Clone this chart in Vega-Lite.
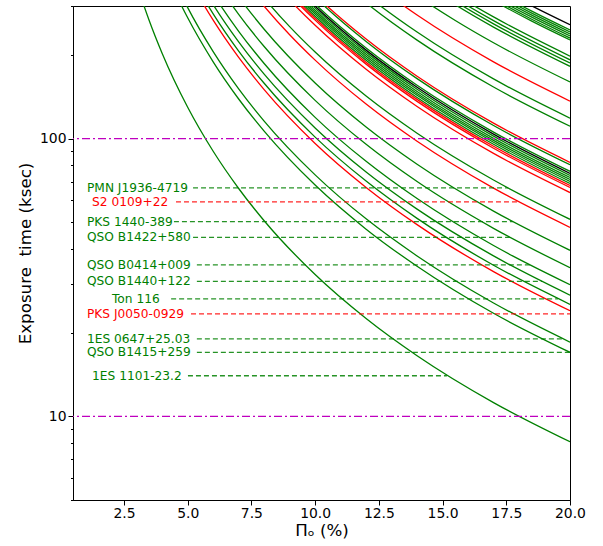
{
  "$schema": "https://vega.github.io/schema/vega-lite/v6.json",
  "width": 497,
  "height": 494,
  "autosize": {"type": "none"},
  "padding": {"left": 73, "top": 6, "right": 33, "bottom": 46},
  "background": "white",
  "datasets": {
    "curves": [
      {"id":1,"g":"A","p":2.5,"t":518.4},{"id":1,"g":"A","p":3,"t":360},{"id":1,"g":"A","p":3.5,"t":264.5},{"id":1,"g":"A","p":4,"t":202.5},{"id":1,"g":"A","p":5,"t":129.6},{"id":1,"g":"A","p":6,"t":90},{"id":1,"g":"A","p":7,"t":66.1},{"id":1,"g":"A","p":8,"t":50.6},{"id":1,"g":"A","p":10,"t":32.4},{"id":1,"g":"A","p":12,"t":22.5},{"id":1,"g":"A","p":14,"t":16.53},{"id":1,"g":"A","p":17,"t":11.21},{"id":1,"g":"A","p":20,"t":8.1},
      {"id":2,"g":"A","p":3.5,"t":555.1},{"id":2,"g":"A","p":4,"t":425},{"id":2,"g":"A","p":5,"t":272},{"id":2,"g":"A","p":6,"t":188.9},{"id":2,"g":"A","p":7,"t":138.8},{"id":2,"g":"A","p":8,"t":106.3},{"id":2,"g":"A","p":10,"t":68},{"id":2,"g":"A","p":12,"t":47.2},{"id":2,"g":"A","p":14,"t":34.7},{"id":2,"g":"A","p":17,"t":23.5},{"id":2,"g":"A","p":20,"t":17},
      {"id":3,"g":"A","p":3.5,"t":604},{"id":3,"g":"A","p":4,"t":462.5},{"id":3,"g":"A","p":5,"t":296},{"id":3,"g":"A","p":6,"t":205.6},{"id":3,"g":"A","p":7,"t":151},{"id":3,"g":"A","p":8,"t":115.6},{"id":3,"g":"A","p":10,"t":74},{"id":3,"g":"A","p":12,"t":51.4},{"id":3,"g":"A","p":14,"t":37.8},{"id":3,"g":"A","p":17,"t":25.6},{"id":3,"g":"A","p":20,"t":18.5},
      {"id":4,"g":"B","p":4,"t":600},{"id":4,"g":"B","p":5,"t":384},{"id":4,"g":"B","p":6,"t":266.7},{"id":4,"g":"B","p":7,"t":195.9},{"id":4,"g":"B","p":8,"t":150},{"id":4,"g":"B","p":10,"t":96},{"id":4,"g":"B","p":12,"t":66.7},{"id":4,"g":"B","p":14,"t":49},{"id":4,"g":"B","p":17,"t":33.2},{"id":4,"g":"B","p":20,"t":24},
      {"id":5,"g":"A","p":4,"t":632.5},{"id":5,"g":"A","p":5,"t":404.8},{"id":5,"g":"A","p":6,"t":281.1},{"id":5,"g":"A","p":7,"t":206.5},{"id":5,"g":"A","p":8,"t":158.1},{"id":5,"g":"A","p":10,"t":101.2},{"id":5,"g":"A","p":12,"t":70.3},{"id":5,"g":"A","p":14,"t":51.6},{"id":5,"g":"A","p":17,"t":35},{"id":5,"g":"A","p":20,"t":25.3},
      {"id":6,"g":"A","p":4,"t":682.5},{"id":6,"g":"A","p":5,"t":436.8},{"id":6,"g":"A","p":6,"t":303.3},{"id":6,"g":"A","p":7,"t":222.8},{"id":6,"g":"A","p":8,"t":170.6},{"id":6,"g":"A","p":10,"t":109.2},{"id":6,"g":"A","p":12,"t":75.8},{"id":6,"g":"A","p":14,"t":55.7},{"id":6,"g":"A","p":17,"t":37.8},{"id":6,"g":"A","p":20,"t":27.3},
      {"id":7,"g":"A","p":5,"t":476.8},{"id":7,"g":"A","p":6,"t":331.1},{"id":7,"g":"A","p":7,"t":243.3},{"id":7,"g":"A","p":8,"t":186.3},{"id":7,"g":"A","p":10,"t":119.2},{"id":7,"g":"A","p":12,"t":82.8},{"id":7,"g":"A","p":14,"t":60.8},{"id":7,"g":"A","p":17,"t":41.2},{"id":7,"g":"A","p":20,"t":29.8},
      {"id":8,"g":"A","p":5,"t":548.8},{"id":8,"g":"A","p":6,"t":381.1},{"id":8,"g":"A","p":7,"t":280},{"id":8,"g":"A","p":8,"t":214.4},{"id":8,"g":"A","p":10,"t":137.2},{"id":8,"g":"A","p":12,"t":95.3},{"id":8,"g":"A","p":14,"t":70},{"id":8,"g":"A","p":17,"t":47.5},{"id":8,"g":"A","p":20,"t":34.3},
      {"id":9,"g":"A","p":5,"t":633.6},{"id":9,"g":"A","p":6,"t":440},{"id":9,"g":"A","p":7,"t":323.3},{"id":9,"g":"A","p":8,"t":247.5},{"id":9,"g":"A","p":10,"t":158.4},{"id":9,"g":"A","p":12,"t":110},{"id":9,"g":"A","p":14,"t":80.8},{"id":9,"g":"A","p":17,"t":54.8},{"id":9,"g":"A","p":20,"t":39.6},
      {"id":10,"g":"B","p":6,"t":532.2},{"id":10,"g":"B","p":7,"t":391},{"id":10,"g":"B","p":8,"t":299.4},{"id":10,"g":"B","p":9,"t":236.5},{"id":10,"g":"B","p":10,"t":191.6},{"id":10,"g":"B","p":12,"t":133.1},{"id":10,"g":"B","p":14,"t":97.8},{"id":10,"g":"B","p":17,"t":66.3},{"id":10,"g":"B","p":20,"t":47.9},
      {"id":11,"g":"A","p":6,"t":568.9},{"id":11,"g":"A","p":7,"t":418},{"id":11,"g":"A","p":8,"t":320},{"id":11,"g":"A","p":9,"t":252.8},{"id":11,"g":"A","p":10,"t":204.8},{"id":11,"g":"A","p":12,"t":142.2},{"id":11,"g":"A","p":14,"t":104.5},{"id":11,"g":"A","p":17,"t":70.9},{"id":11,"g":"A","p":20,"t":51.2},
      {"id":12,"g":"B","p":7,"t":521.6},{"id":12,"g":"B","p":8,"t":399.4},{"id":12,"g":"B","p":9,"t":315.5},{"id":12,"g":"B","p":10,"t":255.6},{"id":12,"g":"B","p":12,"t":177.5},{"id":12,"g":"B","p":14,"t":130.4},{"id":12,"g":"B","p":17,"t":88.4},{"id":12,"g":"B","p":20,"t":63.9},
      {"id":13,"g":"B","p":7,"t":544.5},{"id":13,"g":"B","p":8,"t":416.9},{"id":13,"g":"B","p":9,"t":329.4},{"id":13,"g":"B","p":10,"t":266.8},{"id":13,"g":"B","p":12,"t":185.3},{"id":13,"g":"B","p":14,"t":136.1},{"id":13,"g":"B","p":17,"t":92.3},{"id":13,"g":"B","p":20,"t":66.7},
      {"id":14,"g":"B","p":7,"t":553.5},{"id":14,"g":"B","p":8,"t":423.8},{"id":14,"g":"B","p":9,"t":334.8},{"id":14,"g":"B","p":10,"t":271.2},{"id":14,"g":"B","p":12,"t":188.3},{"id":14,"g":"B","p":14,"t":138.4},{"id":14,"g":"B","p":17,"t":93.8},{"id":14,"g":"B","p":20,"t":67.8},
      {"id":15,"g":"A","p":7,"t":562.4},{"id":15,"g":"A","p":8,"t":430.6},{"id":15,"g":"A","p":9,"t":340.2},{"id":15,"g":"A","p":10,"t":275.6},{"id":15,"g":"A","p":12,"t":191.4},{"id":15,"g":"A","p":14,"t":140.6},{"id":15,"g":"A","p":17,"t":95.4},{"id":15,"g":"A","p":20,"t":68.9},
      {"id":16,"g":"A","p":7,"t":572.2},{"id":16,"g":"A","p":8,"t":438.1},{"id":16,"g":"A","p":9,"t":346.2},{"id":16,"g":"A","p":10,"t":280.4},{"id":16,"g":"A","p":12,"t":194.7},{"id":16,"g":"A","p":14,"t":143.1},{"id":16,"g":"A","p":17,"t":97},{"id":16,"g":"A","p":20,"t":70.1},
      {"id":17,"g":"A","p":7,"t":581.2},{"id":17,"g":"A","p":8,"t":445},{"id":17,"g":"A","p":9,"t":351.6},{"id":17,"g":"A","p":10,"t":284.8},{"id":17,"g":"A","p":12,"t":197.8},{"id":17,"g":"A","p":14,"t":145.3},{"id":17,"g":"A","p":17,"t":98.5},{"id":17,"g":"A","p":20,"t":71.2},
      {"id":18,"g":"A","p":7,"t":591},{"id":18,"g":"A","p":8,"t":452.5},{"id":18,"g":"A","p":9,"t":357.5},{"id":18,"g":"A","p":10,"t":289.6},{"id":18,"g":"A","p":12,"t":201.1},{"id":18,"g":"A","p":14,"t":147.8},{"id":18,"g":"A","p":17,"t":100.2},{"id":18,"g":"A","p":20,"t":72.4},
      {"id":19,"g":"A","p":7,"t":601.6},{"id":19,"g":"A","p":8,"t":460.6},{"id":19,"g":"A","p":9,"t":363.9},{"id":19,"g":"A","p":10,"t":294.8},{"id":19,"g":"A","p":12,"t":204.7},{"id":19,"g":"A","p":14,"t":150.4},{"id":19,"g":"A","p":17,"t":102},{"id":19,"g":"A","p":20,"t":73.7},
      {"id":20,"g":"C","p":7,"t":611.4},{"id":20,"g":"C","p":8,"t":468.1},{"id":20,"g":"C","p":9,"t":369.9},{"id":20,"g":"C","p":10,"t":299.6},{"id":20,"g":"C","p":12,"t":208.1},{"id":20,"g":"C","p":14,"t":152.9},{"id":20,"g":"C","p":17,"t":103.7},{"id":20,"g":"C","p":20,"t":74.9},
      {"id":21,"g":"A","p":7,"t":622},{"id":21,"g":"A","p":8,"t":476.3},{"id":21,"g":"A","p":9,"t":376.3},{"id":21,"g":"A","p":10,"t":304.8},{"id":21,"g":"A","p":12,"t":211.7},{"id":21,"g":"A","p":14,"t":155.5},{"id":21,"g":"A","p":17,"t":105.5},{"id":21,"g":"A","p":20,"t":76.2},
      {"id":22,"g":"A","p":8,"t":503.1},{"id":22,"g":"A","p":9,"t":397.5},{"id":22,"g":"A","p":10,"t":322},{"id":22,"g":"A","p":12,"t":223.6},{"id":22,"g":"A","p":14,"t":164.3},{"id":22,"g":"A","p":17,"t":111.4},{"id":22,"g":"A","p":20,"t":80.5},
      {"id":23,"g":"B","p":8,"t":513.1},{"id":23,"g":"B","p":9,"t":405.4},{"id":23,"g":"B","p":10,"t":328.4},{"id":23,"g":"B","p":12,"t":228.1},{"id":23,"g":"B","p":14,"t":167.6},{"id":23,"g":"B","p":17,"t":113.6},{"id":23,"g":"B","p":20,"t":82.1},
      {"id":24,"g":"A","p":8,"t":692.5},{"id":24,"g":"A","p":9,"t":547.1},{"id":24,"g":"A","p":10,"t":443.2},{"id":24,"g":"A","p":12,"t":307.8},{"id":24,"g":"A","p":14,"t":226.1},{"id":24,"g":"A","p":17,"t":153.3},{"id":24,"g":"A","p":20,"t":110.8},
      {"id":25,"g":"A","p":8,"t":740},{"id":25,"g":"A","p":9,"t":584.7},{"id":25,"g":"A","p":10,"t":473.6},{"id":25,"g":"A","p":12,"t":328.9},{"id":25,"g":"A","p":14,"t":241.7},{"id":25,"g":"A","p":17,"t":163.9},{"id":25,"g":"A","p":20,"t":118.4},
      {"id":26,"g":"B","p":10,"t":545.6},{"id":26,"g":"B","p":12,"t":378.9},{"id":26,"g":"B","p":14,"t":278.4},{"id":26,"g":"B","p":17,"t":188.8},{"id":26,"g":"B","p":20,"t":136.4},
      {"id":27,"g":"A","p":10,"t":639.2},{"id":27,"g":"A","p":12,"t":443.9},{"id":27,"g":"A","p":14,"t":326.2},{"id":27,"g":"A","p":15.5,"t":266.1},{"id":27,"g":"A","p":17,"t":221.2},{"id":27,"g":"A","p":20,"t":159.8},
      {"id":28,"g":"A","p":12,"t":505.6},{"id":28,"g":"A","p":14,"t":371.5},{"id":28,"g":"A","p":15.5,"t":303},{"id":28,"g":"A","p":17,"t":251.9},{"id":28,"g":"A","p":20,"t":182},
      {"id":29,"g":"A","p":12,"t":519.5},{"id":29,"g":"A","p":14,"t":381.7},{"id":29,"g":"A","p":15.5,"t":311.3},{"id":29,"g":"A","p":17,"t":258.8},{"id":29,"g":"A","p":20,"t":187},
      {"id":30,"g":"A","p":12,"t":533.4},{"id":30,"g":"A","p":14,"t":391.9},{"id":30,"g":"A","p":15.5,"t":319.7},{"id":30,"g":"A","p":17,"t":265.7},{"id":30,"g":"A","p":20,"t":192},
      {"id":31,"g":"A","p":12,"t":550},{"id":31,"g":"A","p":14,"t":404.1},{"id":31,"g":"A","p":15.5,"t":329.7},{"id":31,"g":"A","p":17,"t":274},{"id":31,"g":"A","p":20,"t":198},
      {"id":32,"g":"A","p":14,"t":462.3},{"id":32,"g":"A","p":17,"t":313.5},{"id":32,"g":"A","p":18.5,"t":264.7},{"id":32,"g":"A","p":20,"t":226.5},
      {"id":33,"g":"A","p":14,"t":469.4},{"id":33,"g":"A","p":17,"t":318.3},{"id":33,"g":"A","p":18.5,"t":268.8},{"id":33,"g":"A","p":20,"t":230},
      {"id":34,"g":"A","p":14,"t":477.6},{"id":34,"g":"A","p":17,"t":323.9},{"id":34,"g":"A","p":18.5,"t":273.5},{"id":34,"g":"A","p":20,"t":234},
      {"id":35,"g":"A","p":14,"t":485.8},{"id":35,"g":"A","p":17,"t":329.4},{"id":35,"g":"A","p":18.5,"t":278.2},{"id":35,"g":"A","p":20,"t":238},
      {"id":36,"g":"A","p":14,"t":493.9},{"id":36,"g":"A","p":17,"t":334.9},{"id":36,"g":"A","p":18.5,"t":282.8},{"id":36,"g":"A","p":20,"t":242},
      {"id":37,"g":"A","p":14,"t":502.1},{"id":37,"g":"A","p":17,"t":340.5},{"id":37,"g":"A","p":18.5,"t":287.5},{"id":37,"g":"A","p":20,"t":246},
      {"id":38,"g":"C","p":14,"t":524.5},{"id":38,"g":"C","p":17,"t":355.7},{"id":38,"g":"C","p":18.5,"t":300.4},{"id":38,"g":"C","p":20,"t":257}
    ],
    "sources": [
      {"name":"PMN J1936-4719","g":"A","t":66.4,"pl":1.05,"p0":5.21,"p1":17.57},
      {"name":"S2 0109+22","g":"B","t":59.2,"pl":1.25,"p0":4.54,"p1":17.96},
      {"name":"PKS 1440-389","g":"A","t":50.2,"pl":1.05,"p0":4.46,"p1":17.76},
      {"name":"QSO B1422+580","g":"A","t":44.1,"pl":1.05,"p0":5.21,"p1":17.64},
      {"name":"QSO B0414+009","g":"A","t":35.1,"pl":1.05,"p0":5.36,"p1":18.43},
      {"name":"QSO B1440+122","g":"A","t":30.6,"pl":1.05,"p0":5.36,"p1":18.9},
      {"name":"Ton 116","g":"A","t":26.5,"pl":2.03,"p0":4.35,"p1":19.53},
      {"name":"PKS J0050-0929","g":"B","t":23.4,"pl":1.05,"p0":5.13,"p1":20},
      {"name":"1ES 0647+25.03","g":"A","t":19.0,"pl":1.05,"p0":5.36,"p1":19.72},
      {"name":"QSO B1415+259","g":"A","t":17.0,"pl":1.05,"p0":5.36,"p1":20},
      {"name":"1ES 1101-23.2","g":"A","t":14.0,"pl":1.25,"p0":5.01,"p1":15.17}
    ],
    "hlines": [{"t":10},{"t":100}]
  },
  "layer": [
    {
      "data": {"name": "curves"},
      "mark": {"type": "line", "clip": true, "strokeWidth": 1.3, "interpolate": "monotone"},
      "encoding": {
        "x": {"field": "p", "type": "quantitative", "title": "Πₒ (%)",
              "scale": {"domain": [0.5, 20], "nice": false, "zero": false},
              "axis": {"values": [2.5,5,7.5,10,12.5,15,17.5,20], "format": ".1f", "tickSize": 5, "labelPadding": 1, "titlePadding": 3, "labelFlush": false, "labelOverlap": false}},
        "y": {"field": "t", "type": "quantitative", "title": "Exposure\u00a0 time (ksec)",
              "scale": {"type": "log", "domain": [5, 300], "nice": false},
              "axis": {"values": [5,6,7,8,9,10,20,30,40,50,60,70,80,90,100,200,300], "format": ".0f",
                       "labelExpr": "datum.value == 10 || datum.value == 100 ? datum.label : ''",
                       "tickSize": {"condition": {"test": "datum.value == 10 || datum.value == 100", "value": 5}, "value": 2.5},
                       "labelPadding": 2, "titlePadding": 5, "labelOverlap": false}},
        "color": {"field": "g", "type": "nominal", "legend": null,
                  "scale": {"domain": ["A","B","C"], "range": ["#008000","#ff0000","#000000"]}},
        "detail": {"field": "id", "type": "nominal"},
        "order": {"field": "p", "type": "quantitative"}
      }
    },
    {
      "data": {"name": "hlines"},
      "mark": {"type": "rule", "color": "#bf00bf", "strokeWidth": 1.3, "strokeDash": [8, 3, 2, 3]},
      "encoding": {
        "y": {"field": "t", "type": "quantitative", "title": "Exposure\u00a0 time (ksec)"}
      }
    },
    {
      "data": {"name": "sources"},
      "mark": {"type": "rule", "strokeWidth": 1.3, "strokeDash": [5, 3], "opacity": 0.85},
      "encoding": {
        "x": {"field": "p0", "type": "quantitative", "title": "Πₒ (%)"},
        "x2": {"field": "p1"},
        "y": {"field": "t", "type": "quantitative", "title": "Exposure\u00a0 time (ksec)"},
        "color": {"field": "g", "type": "nominal", "legend": null}
      }
    },
    {
      "data": {"name": "sources"},
      "mark": {"type": "text", "align": "left", "baseline": "middle", "font": "DejaVu Sans", "fontSize": 12.2},
      "encoding": {
        "x": {"field": "pl", "type": "quantitative", "title": "Πₒ (%)"},
        "y": {"field": "t", "type": "quantitative", "title": "Exposure\u00a0 time (ksec)"},
        "text": {"field": "name"},
        "color": {"field": "g", "type": "nominal", "legend": null}
      }
    }
  ],
  "config": {
    "view": {"stroke": "black", "strokeWidth": 1},
    "font": "DejaVu Sans",
    "axis": {"grid": false, "domainColor": "black", "tickColor": "black", "labelColor": "black", "titleColor": "black",
             "labelFont": "DejaVu Sans", "titleFont": "DejaVu Sans", "labelFontSize": 13.9, "titleFontSize": 16.7,
             "titleFontWeight": "normal", "domainWidth": 1, "tickWidth": 1}
  }
}
